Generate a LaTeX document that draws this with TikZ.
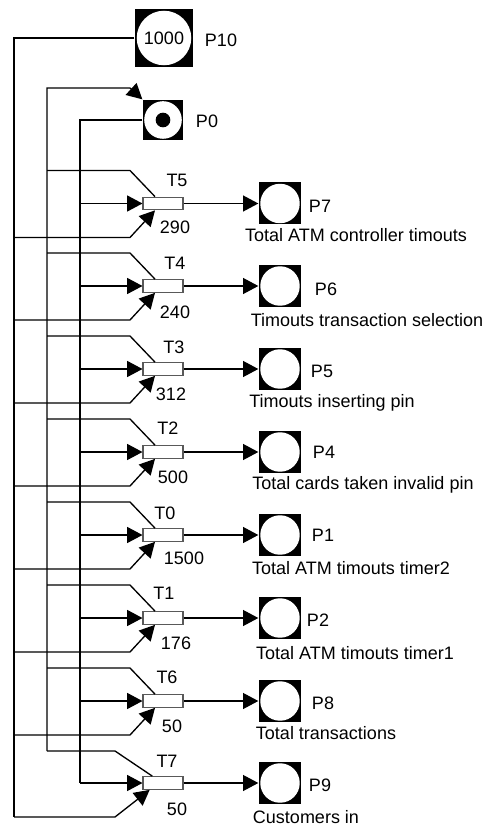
\documentclass[tikz,border=0pt]{standalone}
\usepackage{fontspec}
\setmainfont{Liberation Sans}
\usetikzlibrary{arrows.meta}

\begin{document}
\begin{tikzpicture}[x=0.75pt,y=-0.75pt,line width=1pt,
    every node/.style={font=\fontsize{13.5}{15}\selectfont},
    place/.style={fill=black,inner sep=0pt,minimum size=#1,
        path picture={\fill[white] (path picture bounding box.center) circle (0.47*#1);}},
    trans/.style={draw=black!65,fill=white,line width=0.8pt,inner sep=0pt,
        minimum width=30pt,minimum height=9.5pt},
    arc/.style={-{Triangle[length=11.5pt,width=12pt]}}]
    \useasboundingbox (0,0) rectangle (490,827);
    % --- PLACES AT THE TOP ---
    \node[place=43.5pt] (p10) at (164,38) {1000};
    \node (p10name) at (221,40) {P10};
    \node[place=30pt] (p0) at (163,120) {};
    \fill (p0.center) circle (5.5pt);
    \node (p0name) at (207,121) {P0};
    % --- BUS LINES ---
    \coordinate (busL) at (14,817);
    \coordinate (busM) at (47,751);
    \coordinate (busR) at (80,783);
    \coordinate (p0in) at (130,88);
    \draw (p10.west) -| (busL);
    \draw[arc] (busM) |- (p0in) -- (p0.north west);
    \draw (p0.west) -| (busR);

    % --- T5 ---
    \node[trans] (t5) at (163,203.5) {};
    \node (t5name) at (177,180) {T5};
    \node (t5rate) at (175,227) {290};
    \draw[arc] (t5.west -| busR) -- (t5.west);
    \draw (t5.west -| busM) ++(0,-33) -- ++(83,0) -- ([xshift=-6pt]t5.north);
    \draw[arc] (t5.west -| busL) ++(0,34) -- ++(116,0) -- ([xshift=-6pt]t5.south);
    \node[place=31.5pt] (p7) at (280,203.5) {};
    \draw[arc] (t5.east) -- (p7.west);
    \node (p7name) at (320,206) {P7};
    \node (p7text) at (356,235) {Total ATM controller timouts};

    % --- T4 ---
    \node[trans] (t4) at (163,286) {};
    \node (t4name) at (175,263) {T4};
    \node (t4rate) at (175,312) {240};
    \draw[arc] (t4.west -| busR) -- (t4.west);
    \draw (t4.west -| busM) ++(0,-33) -- ++(83,0) -- ([xshift=-6pt]t4.north);
    \draw[arc] (t4.west -| busL) ++(0,34) -- ++(116,0) -- ([xshift=-6pt]t4.south);
    \node[place=31.5pt] (p6) at (280,286) {};
    \draw[arc] (t4.east) -- (p6.west);
    \node (p6name) at (326,289) {P6};
    \node (p6text) at (367,320) {Timouts transaction selection};

    % --- T3 ---
    \node[trans] (t3) at (163,369) {};
    \node (t3name) at (174,347) {T3};
    \node (t3rate) at (171,394) {312};
    \draw[arc] (t3.west -| busR) -- (t3.west);
    \draw (t3.west -| busM) ++(0,-33) -- ++(83,0) -- ([xshift=-6pt]t3.north);
    \draw[arc] (t3.west -| busL) ++(0,34) -- ++(116,0) -- ([xshift=-6pt]t3.south);
    \node[place=31.5pt] (p5) at (280,369) {};
    \draw[arc] (t3.east) -- (p5.west);
    \node (p5name) at (322,371) {P5};
    \node (p5text) at (332,403) {Timouts inserting pin};

    % --- T2 ---
    \node[trans] (t2) at (163,452) {};
    \node (t2name) at (168,428) {T2};
    \node (t2rate) at (173,477) {500};
    \draw[arc] (t2.west -| busR) -- (t2.west);
    \draw (t2.west -| busM) ++(0,-33) -- ++(83,0) -- ([xshift=-6pt]t2.north);
    \draw[arc] (t2.west -| busL) ++(0,34) -- ++(116,0) -- ([xshift=-6pt]t2.south);
    \node[place=31.5pt] (p4) at (280,452) {};
    \draw[arc] (t2.east) -- (p4.west);
    \node (p4name) at (324,452) {P4};
    \node (p4text) at (363,485) {Total cards taken invalid pin};

    % --- T0 ---
    \node[trans] (t0) at (163,535) {};
    \node (t0name) at (165,513) {T0};
    \node (t0rate) at (184,558) {1500};
    \draw[arc] (t0.west -| busR) -- (t0.west);
    \draw (t0.west -| busM) ++(0,-33) -- ++(83,0) -- ([xshift=-6pt]t0.north);
    \draw[arc] (t0.west -| busL) ++(0,34) -- ++(116,0) -- ([xshift=-6pt]t0.south);
    \node[place=31.5pt] (p1) at (280,535) {};
    \draw[arc] (t0.east) -- (p1.west);
    \node (p1name) at (323,535) {P1};
    \node (p1text) at (351,568) {Total ATM timouts timer2};

    % --- T1 ---
    \node[trans] (t1) at (163,618) {};
    \node (t1name) at (164,593) {T1};
    \node (t1rate) at (176,643) {176};
    \draw[arc] (t1.west -| busR) -- (t1.west);
    \draw (t1.west -| busM) ++(0,-33) -- ++(83,0) -- ([xshift=-6pt]t1.north);
    \draw[arc] (t1.west -| busL) ++(0,34) -- ++(116,0) -- ([xshift=-6pt]t1.south);
    \node[place=31.5pt] (p2) at (280,618) {};
    \draw[arc] (t1.east) -- (p2.west);
    \node (p2name) at (318,620) {P2};
    \node (p2text) at (355,653) {Total ATM timouts timer1};

    % --- T6 ---
    \node[trans] (t6) at (163,701) {};
    \node (t6name) at (167,677) {T6};
    \node (t6rate) at (172,726) {50};
    \draw[arc] (t6.west -| busR) -- (t6.west);
    \draw (t6.west -| busM) ++(0,-33) -- ++(83,0) -- ([xshift=-6pt]t6.north);
    \draw[arc] (t6.west -| busL) ++(0,34) -- ++(116,0) -- ([xshift=-6pt]t6.south);
    \node[place=31.5pt] (p8) at (280,701) {};
    \draw[arc] (t6.east) -- (p8.west);
    \node (p8name) at (323,703) {P8};
    \node (p8text) at (326,733) {Total transactions};

    % --- T7 (END OF THE BUSES) ---
    \node[trans] (t7) at (163,783) {};
    \node (t7name) at (167,761) {T7};
    \node (t7rate) at (177,809) {50};
    \draw[arc] (busR) -- (t7.west);
    \draw (busM) -- ++(68,0) -- ([xshift=-8pt]t7.north);
    \draw[arc] (busL) -- ++(101,0) -- ([xshift=-10pt]t7.south);
    \node[place=31.5pt] (p9) at (280,783) {};
    \draw[arc] (t7.east) -- (p9.west);
    \node (p9name) at (320,785) {P9};
    \node (p9text) at (306,817) {Customers in};
\end{tikzpicture}
\end{document}
